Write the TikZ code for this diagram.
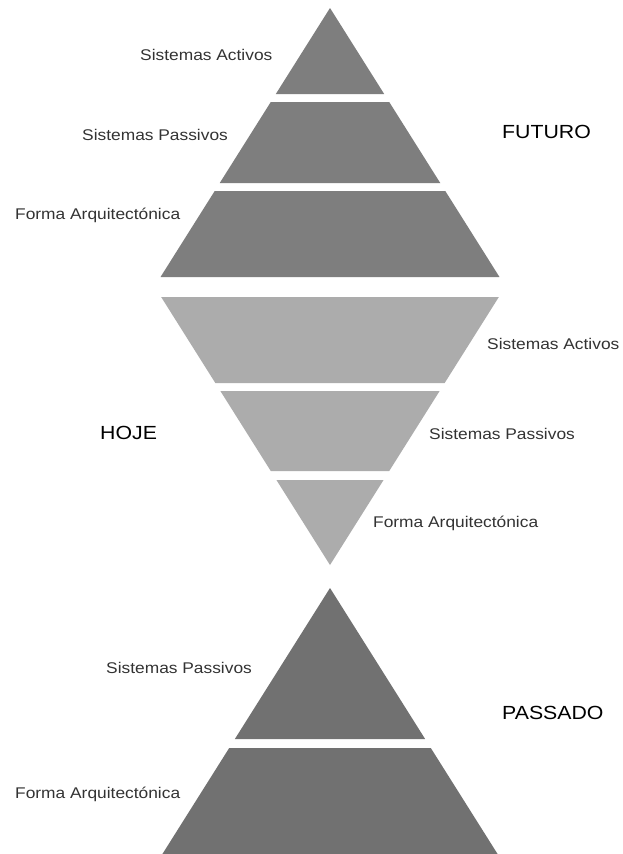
\documentclass[tikz,border=0pt]{standalone}
\usepackage{fontspec}
\setmainfont{Liberation Sans}[FakeStretch=1.12]
\usepackage{tikz}
\usetikzlibrary{calc}

\definecolor{futgray}{HTML}{7E7E7E}
\definecolor{hojgray}{HTML}{ACACAC}
\definecolor{pasgray}{HTML}{717171}

% one slice of a pyramid: colour, apex y, top y, bottom y (pixels, counted downwards)
\newcommand{\slice}[4]{%
  \fill[#1] ({330-0.63*abs(#3-#2)},#3) -- ({330+0.63*abs(#3-#2)},#3)
    -- ({330+0.63*abs(#4-#2)},#4) -- ({330-0.63*abs(#4-#2)},#4) -- cycle;}

\tikzset{
  lbl/.style={anchor=west, inner sep=0pt, text=black!80, font=\fontsize{15.5}{17}\selectfont},
  era/.style={anchor=west, inner sep=0pt, text=black, font=\fontsize{19}{21}\selectfont}
}

\begin{document}
\begin{tikzpicture}[x=1pt,y=-1pt]
  \useasboundingbox[fill=white] (0,0) rectangle (623,854);

  % Futuro (apex up)
  \slice{futgray}{8}{8}{94}
  \slice{futgray}{8}{102}{183}
  \slice{futgray}{8}{191}{277}

  % Hoje (apex down)
  \slice{hojgray}{565}{297}{383}
  \slice{hojgray}{565}{391}{471}
  \slice{hojgray}{565}{480}{565}

  % Passado (apex up, cut by the page edge)
  \slice{pasgray}{588}{588}{739}
  \slice{pasgray}{588}{748}{854}

  % Labels
  \node[lbl] (futAct) at (140,55)  {Sistemas Activos};
  \node[lbl] (futPas) at (82,135)  {Sistemas Passivos};
  \node[lbl] (futFor) at (15,215)  {Forma Arquitectónica};
  \node[era] (futuro) at (502,132) {FUTURO};

  \node[lbl] (hojAct) at (487,344) {Sistemas Activos};
  \node[lbl] (hojPas) at (429,434) {Sistemas Passivos};
  \node[lbl] (hojFor) at (373,523) {Forma Arquitectónica};
  \node[era] (hoje)   at (100,433) {HOJE};

  \node[lbl] (pasPas) at (106,668) {Sistemas Passivos};
  \node[lbl] (pasFor) at (15,794)  {Forma Arquitectónica};
  \node[era] (passado) at (502,713) {PASSADO};
\end{tikzpicture}
\end{document}
